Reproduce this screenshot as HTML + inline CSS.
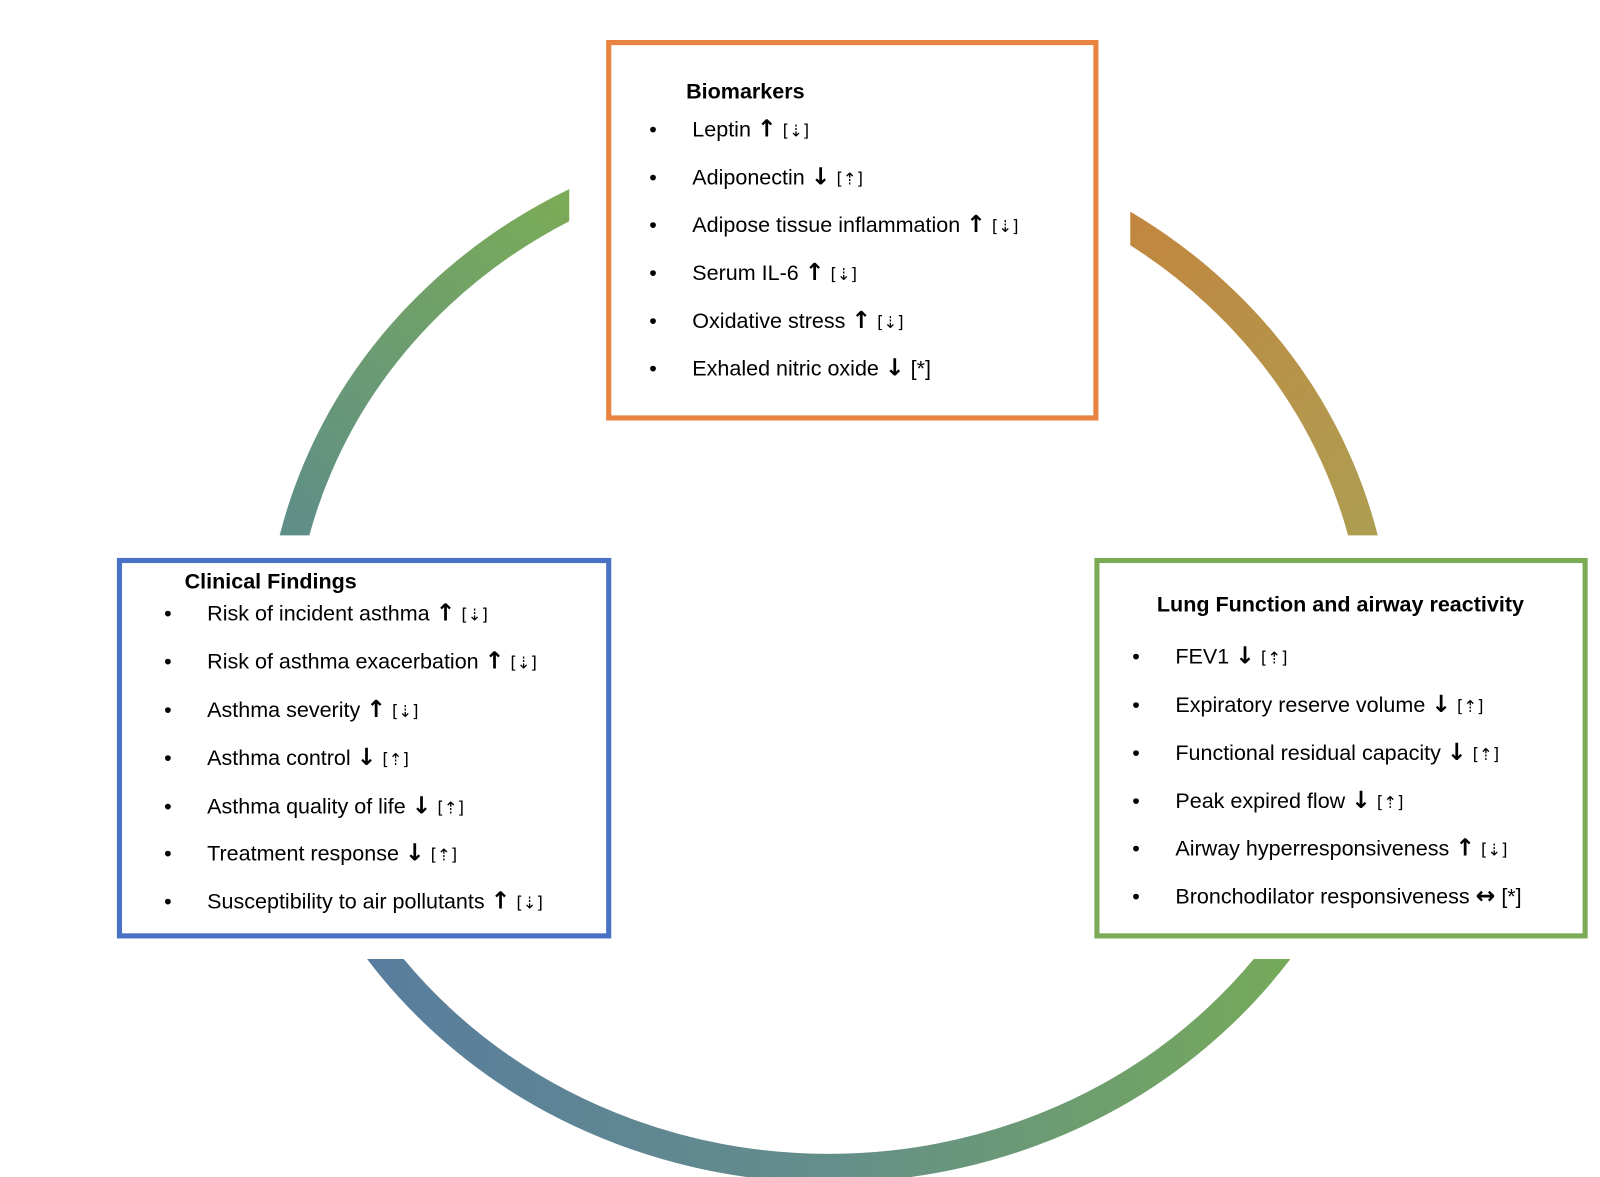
<!DOCTYPE html>
<html><head><meta charset="utf-8"><style>
html,body{margin:0;padding:0;background:#fff;}
svg{display:block;}
text{font-family:"Liberation Sans","DejaVu Sans",sans-serif;font-size:21px;fill:#000;}
.t{font-weight:bold;}
.s{font-family:"DejaVu Sans",sans-serif;font-size:16px;}
.a{font-family:"DejaVu Sans",sans-serif;font-weight:bold;font-size:23px;}
</style></head><body>
<svg width="1600" height="1177" viewBox="0 0 1560 1147.6" preserveAspectRatio="none" xmlns="http://www.w3.org/2000/svg">
<defs>
<clipPath id="cl"><rect x="0" y="0" width="555" height="522"/></clipPath>
<clipPath id="cr"><rect x="1102" y="0" width="498" height="522"/></clipPath>
<clipPath id="cb"><rect x="0" y="935" width="1600" height="242"/></clipPath>
<linearGradient id="gl" gradientUnits="userSpaceOnUse" x1="520" y1="180" x2="280" y2="520"><stop offset="0" stop-color="#7bab57"/><stop offset="1" stop-color="#5e8e88"/></linearGradient>
<linearGradient id="gr" gradientUnits="userSpaceOnUse" x1="1110" y1="200" x2="1340" y2="522"><stop offset="0" stop-color="#c2863f"/><stop offset="1" stop-color="#ad9e52"/></linearGradient>
<linearGradient id="gb" gradientUnits="userSpaceOnUse" x1="350" y1="0" x2="1265" y2="0"><stop offset="0" stop-color="#587c9e"/><stop offset="0.5" stop-color="#648e8a"/><stop offset="1" stop-color="#76aa58"/></linearGradient>
</defs>
<ellipse cx="808" cy="640" rx="536" ry="499" fill="none" stroke="url(#gl)" stroke-width="28" clip-path="url(#cl)"/>
<ellipse cx="808" cy="640" rx="536" ry="499" fill="none" stroke="url(#gr)" stroke-width="28" clip-path="url(#cr)"/>
<ellipse cx="808" cy="640" rx="536" ry="499" fill="none" stroke="url(#gb)" stroke-width="28" clip-path="url(#cb)"/>

<rect x="593.5" y="41.5" width="475" height="366" fill="#fff" stroke="#e8843f" stroke-width="5"/>
<rect x="116.5" y="546.5" width="477" height="366" fill="#fff" stroke="#4a72c4" stroke-width="5"/>
<rect x="1069.5" y="546.5" width="476" height="366" fill="#fff" stroke="#7cab58" stroke-width="5"/>

<text class="t" x="669" y="96">Biomarkers</text>
<g>
<text x="633" y="133">•</text><text x="675" y="133">Leptin <tspan class="a">↑</tspan> <tspan class="s">[⇣]</tspan></text>
<text x="633" y="180">•</text><text x="675" y="180">Adiponectin <tspan class="a">↓</tspan> <tspan class="s">[⇡]</tspan></text>
<text x="633" y="226">•</text><text x="675" y="226">Adipose tissue inflammation <tspan class="a">↑</tspan> <tspan class="s">[⇣]</tspan></text>
<text x="633" y="273">•</text><text x="675" y="273">Serum IL-6 <tspan class="a">↑</tspan> <tspan class="s">[⇣]</tspan></text>
<text x="633" y="320">•</text><text x="675" y="320">Oxidative stress <tspan class="a">↑</tspan> <tspan class="s">[⇣]</tspan></text>
<text x="633" y="366">•</text><text x="675" y="366">Exhaled nitric oxide <tspan class="a">↓</tspan> [*]</text>
</g>

<text class="t" x="180" y="574">Clinical Findings</text>
<g>
<text x="160" y="605">•</text><text x="202" y="605">Risk of incident asthma <tspan class="a">↑</tspan> <tspan class="s">[⇣]</tspan></text>
<text x="160" y="652">•</text><text x="202" y="652">Risk of asthma exacerbation <tspan class="a">↑</tspan> <tspan class="s">[⇣]</tspan></text>
<text x="160" y="699">•</text><text x="202" y="699">Asthma severity <tspan class="a">↑</tspan> <tspan class="s">[⇣]</tspan></text>
<text x="160" y="746">•</text><text x="202" y="746">Asthma control <tspan class="a">↓</tspan> <tspan class="s">[⇡]</tspan></text>
<text x="160" y="793">•</text><text x="202" y="793">Asthma quality of life <tspan class="a">↓</tspan> <tspan class="s">[⇡]</tspan></text>
<text x="160" y="839">•</text><text x="202" y="839">Treatment response <tspan class="a">↓</tspan> <tspan class="s">[⇡]</tspan></text>
<text x="160" y="886">•</text><text x="202" y="886">Susceptibility to air pollutants <tspan class="a">↑</tspan> <tspan class="s">[⇣]</tspan></text>
</g>

<text class="t" x="1128" y="596">Lung Function and airway reactivity</text>
<g>
<text x="1104" y="647">•</text><text x="1146" y="647">FEV1 <tspan class="a">↓</tspan> <tspan class="s">[⇡]</tspan></text>
<text x="1104" y="694">•</text><text x="1146" y="694">Expiratory reserve volume <tspan class="a">↓</tspan> <tspan class="s">[⇡]</tspan></text>
<text x="1104" y="741">•</text><text x="1146" y="741">Functional residual capacity <tspan class="a">↓</tspan> <tspan class="s">[⇡]</tspan></text>
<text x="1104" y="788">•</text><text x="1146" y="788">Peak expired flow <tspan class="a">↓</tspan> <tspan class="s">[⇡]</tspan></text>
<text x="1104" y="834">•</text><text x="1146" y="834">Airway hyperresponsiveness <tspan class="a">↑</tspan> <tspan class="s">[⇣]</tspan></text>
<text x="1104" y="881">•</text><text x="1146" y="881">Bronchodilator responsiveness <tspan class="a">↔</tspan> [*]</text>
</g>
</svg>
</body></html>
